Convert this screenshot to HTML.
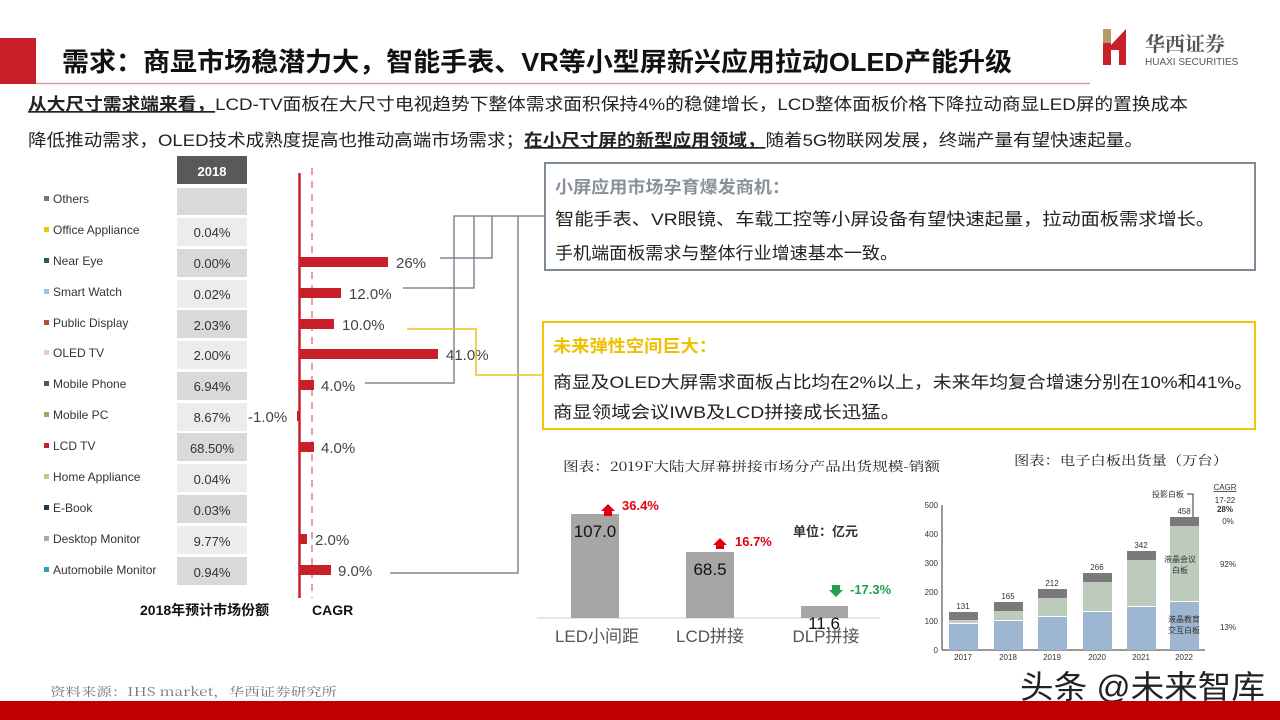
<!DOCTYPE html>
<html><head><meta charset="utf-8"><style>
html,body{margin:0;padding:0;background:#fff;}
svg{display:block;}
text{font-family:"Liberation Sans","Noto Sans CJK SC",sans-serif;}
.s{font-family:"Noto Serif CJK SC","Liberation Serif",serif;}
</style></head><body>
<svg width="1280" height="720" viewBox="0 0 1280 720" xmlns="http://www.w3.org/2000/svg">
<!-- header -->
<rect x="0" y="38" width="36" height="46" fill="#c8202b"/>
<line x1="36" y1="83.5" x2="1090" y2="83.5" stroke="#d9a0a4" stroke-width="1.5"/>
<text x="62" y="71" font-size="26" font-weight="bold" fill="#111" textLength="950" lengthAdjust="spacingAndGlyphs">需求：商显市场稳潜力大，智能手表、VR等小型屏新兴应用拉动OLED产能升级</text>
<!-- logo -->
<rect x="1103" y="29" width="8" height="36" fill="#c8202b"/>
<rect x="1103" y="29" width="8" height="14" fill="#b89a6a"/>
<polygon points="1111,45 1126,29 1126,65 1119,65 1119,50 1111,50" fill="#c8202b"/>
<text x="1145" y="51" font-size="20" font-weight="bold" fill="#555" class="s">华西证券</text>
<text x="1145" y="65" font-size="10" fill="#555">HUAXI SECURITIES</text>
<!-- intro text -->
<text x="28" y="110" font-size="17" fill="#222" textLength="1160" lengthAdjust="spacingAndGlyphs"><tspan font-weight="bold" text-decoration="underline">从大尺寸需求端来看，</tspan>LCD-TV面板在大尺寸电视趋势下整体需求面积保持4%的稳健增长，LCD整体面板价格下降拉动商显LED屏的置换成本</text>
<text x="28" y="146" font-size="17" fill="#222" textLength="1115" lengthAdjust="spacingAndGlyphs">降低推动需求，OLED技术成熟度提高也推动高端市场需求；<tspan font-weight="bold" text-decoration="underline">在小尺寸屏的新型应用领域，</tspan>随着5G物联网发展，终端产量有望快速起量。</text>
<!-- left table -->
<rect x="177" y="156" width="70" height="28" fill="#595959"/>
<text x="212" y="176" font-size="13" font-weight="bold" fill="#fff" text-anchor="middle">2018</text>
<g font-size="13" fill="#333" text-anchor="middle">
<rect x="177" y="188" width="70" height="27" fill="#d9d9d9"/>
<rect x="177" y="218" width="70" height="28" fill="#ececec"/><text x="212" y="237">0.04%</text>
<rect x="177" y="249" width="70" height="28" fill="#d9d9d9"/><text x="212" y="268">0.00%</text>
<rect x="177" y="280" width="70" height="28" fill="#ececec"/><text x="212" y="299">0.02%</text>
<rect x="177" y="310" width="70" height="28" fill="#d9d9d9"/><text x="212" y="330">2.03%</text>
<rect x="177" y="341" width="70" height="28" fill="#ececec"/><text x="212" y="360">2.00%</text>
<rect x="177" y="372" width="70" height="28" fill="#d9d9d9"/><text x="212" y="391">6.94%</text>
<rect x="177" y="403" width="70" height="28" fill="#ececec"/><text x="212" y="422">8.67%</text>
<rect x="177" y="433" width="70" height="28" fill="#d9d9d9"/><text x="212" y="453">68.50%</text>
<rect x="177" y="464" width="70" height="28" fill="#ececec"/><text x="212" y="484">0.04%</text>
<rect x="177" y="495" width="70" height="28" fill="#d9d9d9"/><text x="212" y="515">0.03%</text>
<rect x="177" y="526" width="70" height="28" fill="#ececec"/><text x="212" y="546">9.77%</text>
<rect x="177" y="557" width="70" height="28" fill="#d9d9d9"/><text x="212" y="577">0.94%</text>
</g>
<g font-size="12" fill="#333">
<rect x="44" y="196" width="5" height="5" fill="#777"/><text x="53" y="203">Others</text>
<rect x="44" y="227" width="5" height="5" fill="#f0c800"/><text x="53" y="234">Office Appliance</text>
<rect x="44" y="258" width="5" height="5" fill="#2e5a4a"/><text x="53" y="265">Near Eye</text>
<rect x="44" y="289" width="5" height="5" fill="#9cc3e0"/><text x="53" y="296">Smart Watch</text>
<rect x="44" y="320" width="5" height="5" fill="#b0503a"/><text x="53" y="327">Public Display</text>
<rect x="44" y="350" width="5" height="5" fill="#f0c8cc"/><text x="53" y="357">OLED TV</text>
<rect x="44" y="381" width="5" height="5" fill="#555"/><text x="53" y="388">Mobile Phone</text>
<rect x="44" y="412" width="5" height="5" fill="#b0a070"/><text x="53" y="419">Mobile PC</text>
<rect x="44" y="443" width="5" height="5" fill="#c0202b"/><text x="53" y="450">LCD TV</text>
<rect x="44" y="474" width="5" height="5" fill="#b8d080"/><text x="53" y="481">Home Appliance</text>
<rect x="44" y="505" width="5" height="5" fill="#1e3a50"/><text x="53" y="512">E-Book</text>
<rect x="44" y="536" width="5" height="5" fill="#aaa"/><text x="53" y="543">Desktop Monitor</text>
<rect x="44" y="567" width="5" height="5" fill="#2aa0c0"/><text x="53" y="574">Automobile Monitor</text>
</g>
<!-- CAGR axis -->
<line x1="312" y1="168" x2="312" y2="598" stroke="#e8a0a8" stroke-width="2" stroke-dasharray="7,6"/>
<line x1="299.5" y1="173" x2="299.5" y2="598" stroke="#c8202b" stroke-width="2.5"/>
<g fill="#c8202b">
<rect x="300" y="257" width="88" height="10"/>
<rect x="300" y="288" width="41" height="10"/>
<rect x="300" y="319" width="34" height="10"/>
<rect x="300" y="349" width="138" height="10"/>
<rect x="300" y="380" width="14" height="10"/>
<rect x="297" y="411" width="3" height="10"/>
<rect x="300" y="442" width="14" height="10"/>
<rect x="300" y="534" width="7" height="10"/>
<rect x="300" y="565" width="31" height="10"/>
</g>
<g font-size="15" fill="#444">
<text x="396" y="268">26%</text>
<text x="349" y="299">12.0%</text>
<text x="342" y="330">10.0%</text>
<text x="446" y="360">41.0%</text>
<text x="321" y="391">4.0%</text>
<text x="248" y="422">-1.0%</text>
<text x="321" y="453">4.0%</text>
<text x="315" y="545">2.0%</text>
<text x="338" y="576">9.0%</text>
</g>
<text x="140" y="615" font-size="14" font-weight="bold" fill="#111">2018年预计市场份额</text>
<text x="312" y="615" font-size="14" font-weight="bold" fill="#111">CAGR</text>
<!-- connectors -->
<g fill="none" stroke="#7f8a96" stroke-width="1.5">
<polyline points="545,216 454,216 454,383 365,383"/>
<polyline points="474,216 474,288 403,288"/>
<polyline points="492,216 492,258 440,258"/>
<polyline points="518,216 518,573 390,573"/>
</g>
<polyline points="407,329 476,329 476,375 543,375" fill="none" stroke="#f0c020" stroke-width="1.5"/>
<!-- gray box -->
<rect x="545" y="163" width="710" height="107" fill="#fff" stroke="#7f8a96" stroke-width="2"/>
<text x="555" y="193" font-size="17" font-weight="bold" fill="#8a9099" textLength="235" lengthAdjust="spacingAndGlyphs">小屏应用市场孕育爆发商机：</text>
<text x="555" y="225" font-size="17" fill="#222" textLength="660" lengthAdjust="spacingAndGlyphs">智能手表、VR眼镜、车载工控等小屏设备有望快速起量，拉动面板需求增长。</text>
<text x="555" y="259" font-size="17" fill="#222" textLength="343" lengthAdjust="spacingAndGlyphs">手机端面板需求与整体行业增速基本一致。</text>
<!-- yellow box -->
<rect x="543" y="322" width="712" height="107" fill="#fff" stroke="#f5c400" stroke-width="2"/>
<text x="553" y="352" font-size="17" font-weight="bold" fill="#f0c000" textLength="164" lengthAdjust="spacingAndGlyphs">未来弹性空间巨大：</text>
<text x="553" y="388" font-size="17" fill="#222" textLength="700" lengthAdjust="spacingAndGlyphs">商显及OLED大屏需求面板占比均在2%以上，未来年均复合增速分别在10%和41%。</text>
<text x="553" y="418" font-size="17" fill="#222" textLength="347" lengthAdjust="spacingAndGlyphs">商显领域会议IWB及LCD拼接成长迅猛。</text>
<!-- middle chart -->
<text x="563" y="471" font-size="13" fill="#222" class="s" textLength="377" lengthAdjust="spacingAndGlyphs">图表：2019F大陆大屏幕拼接市场分产品出货规模-销额</text>
<line x1="537" y1="618" x2="880" y2="618" stroke="#ccc" stroke-width="1"/>
<rect x="571" y="514" width="48" height="104" fill="#a6a6a6"/>
<rect x="686" y="552" width="48" height="66" fill="#a6a6a6"/>
<rect x="801" y="606" width="47" height="12" fill="#a6a6a6"/>
<g font-size="17" fill="#111" text-anchor="middle">
<text x="595" y="537">107.0</text>
<text x="710" y="575">68.5</text>
<text x="824" y="629">11.6</text>
</g>
<g font-size="17" fill="#555" text-anchor="middle">
<text x="597" y="642">LED小间距</text>
<text x="710" y="642">LCD拼接</text>
<text x="826" y="642">DLP拼接</text>
</g>
<polygon points="601,511 608,504 615,511 612,511 612,516 604,516 604,511" fill="#e00010"/>
<text x="622" y="510" font-size="13" font-weight="bold" fill="#e00010">36.4%</text>
<polygon points="713,545 720,538 727,545 724,545 724,549 716,549 716,545" fill="#e00010"/>
<text x="735" y="546" font-size="13" font-weight="bold" fill="#e00010">16.7%</text>
<polygon points="829,590 836,597 843,590 840,590 840,585 832,585 832,590" fill="#20a050"/>
<text x="850" y="594" font-size="13" font-weight="bold" fill="#20a050">-17.3%</text>
<text x="793" y="536" font-size="13" font-weight="bold" fill="#333">单位：亿元</text>
<!-- right chart -->
<text x="1014" y="465" font-size="13" fill="#222" class="s" textLength="214" lengthAdjust="spacingAndGlyphs">图表：电子白板出货量（万台）</text>
<g font-size="8" fill="#333" text-anchor="end">
<text x="938" y="508">500</text><text x="938" y="537">400</text><text x="938" y="566">300</text>
<text x="938" y="595">200</text><text x="938" y="624">100</text><text x="938" y="653">0</text>
</g>
<line x1="942" y1="505" x2="942" y2="650" stroke="#333"/>
<line x1="942" y1="650" x2="1205" y2="650" stroke="#333"/>
<g>
<rect x="949" y="624" width="29" height="26" fill="#9db6d2"/><rect x="949" y="620" width="29" height="3" fill="#c5d0c5"/><rect x="949" y="612" width="29" height="8" fill="#7a7a7a"/>
<rect x="994" y="621" width="29" height="29" fill="#9db6d2"/><rect x="994" y="611" width="29" height="9" fill="#bccbbc"/><rect x="994" y="602" width="29" height="9" fill="#7a7a7a"/>
<rect x="1038" y="617" width="29" height="33" fill="#9db6d2"/><rect x="1038" y="598" width="29" height="18" fill="#bccbbc"/><rect x="1038" y="589" width="29" height="9" fill="#7a7a7a"/>
<rect x="1083" y="612" width="29" height="38" fill="#9db6d2"/><rect x="1083" y="582" width="29" height="29" fill="#bccbbc"/><rect x="1083" y="573" width="29" height="9" fill="#7a7a7a"/>
<rect x="1127" y="607" width="29" height="43" fill="#9db6d2"/><rect x="1127" y="560" width="29" height="46" fill="#bccbbc"/><rect x="1127" y="551" width="29" height="9" fill="#7a7a7a"/>
<rect x="1170" y="602" width="29" height="48" fill="#9db6d2"/><rect x="1170" y="526" width="29" height="75" fill="#bccbbc"/><rect x="1170" y="517" width="29" height="9" fill="#7a7a7a"/>
</g>
<g font-size="8" fill="#333" text-anchor="middle">
<text x="963" y="609">131</text><text x="1008" y="599">165</text><text x="1052" y="586">212</text>
<text x="1097" y="570">266</text><text x="1141" y="548">342</text><text x="1184" y="514">458</text>
<text x="963" y="660">2017</text><text x="1008" y="660">2018</text><text x="1052" y="660">2019</text>
<text x="1097" y="660">2020</text><text x="1141" y="660">2021</text><text x="1184" y="660">2022</text>
<text x="1180" y="562">液晶会议</text><text x="1180" y="573">白板</text>
<text x="1184" y="622">液晶教育</text><text x="1184" y="633">交互白板</text>
<text x="1168" y="497">投影白板</text>
</g>
<polyline points="1187,494 1193,494 1193,517" fill="none" stroke="#333" stroke-width="1"/>
<g font-size="8" fill="#333" text-anchor="middle">
<text x="1225" y="490" text-decoration="underline">CAGR</text>
<text x="1225" y="503">17-22</text>
<text x="1225" y="512" font-weight="bold">28%</text>
<text x="1228" y="524">0%</text>
<text x="1228" y="567">92%</text>
<text x="1228" y="630">13%</text>
</g>
<!-- watermark / footer -->
<text x="1020" y="698" font-size="32" fill="#222" textLength="245" lengthAdjust="spacingAndGlyphs">头条 @未来智库</text>
<text x="50" y="696" font-size="12" fill="#777" class="s" textLength="287" lengthAdjust="spacingAndGlyphs">资料来源：IHS market，华西证券研究所</text>
<rect x="0" y="701" width="1280" height="19" fill="#c00000"/>
</svg>
</body></html>
